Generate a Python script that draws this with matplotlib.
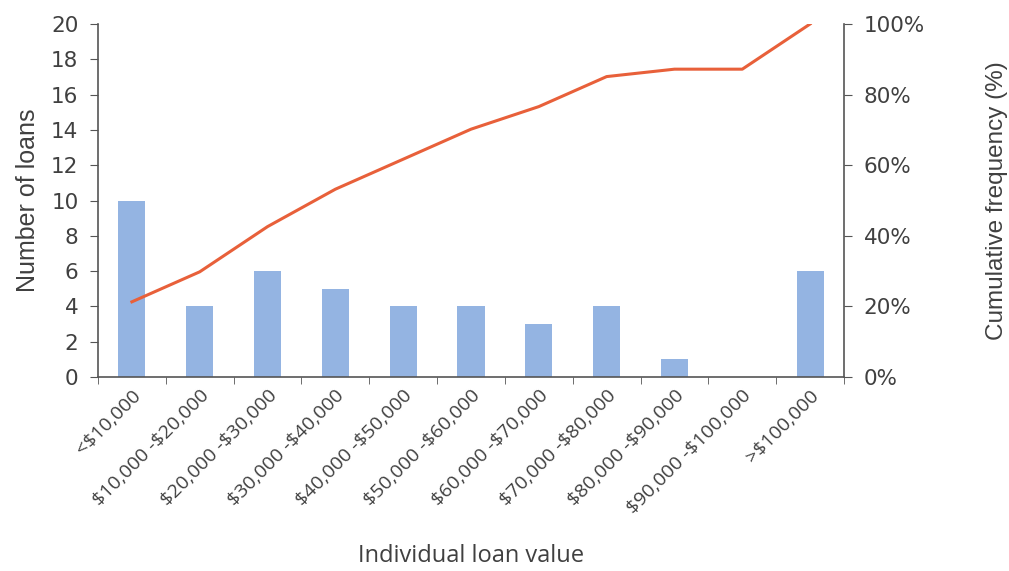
import numpy as np
import matplotlib
matplotlib.use("Agg")
import matplotlib.pyplot as plt
from matplotlib.ticker import FuncFormatter

# loan value bands, counts and running share of loans
bands = ["<$10,000", "$10,000 -$20,000", "$20,000 -$30,000", "$30,000 -$40,000",
         "$40,000 -$50,000", "$50,000 -$60,000", "$60,000 -$70,000",
         "$70,000 -$80,000", "$80,000 -$90,000", "$90,000 -$100,000", ">$100,000"]
counts = [10, 4, 6, 5, 4, 4, 3, 4, 1, 0, 6]
cum_pct = [21.3, 29.8, 42.6, 53.2, 61.7, 70.2, 76.6, 85.1, 87.2, 87.2, 100.0]

plt.rcParams['font.family'] = ['Liberation Sans', 'DejaVu Sans']
plt.rcParams['text.parse_math'] = False
txt = '#404040'
spine = '#555555'
tickfont = ['DejaVu Sans']

fig = plt.figure(figsize=(10.09, 5.71), dpi=100)
ax = fig.add_axes([0.0971, 0.3397, 0.7394, 0.6183])
x = np.arange(len(bands))
ax.bar(x, counts, width=0.4, color='#94b4e2', zorder=2)
ax.set_xlim(-0.5, len(bands) - 0.5)
ax.set_ylim(0, 20)
ax.set_yticks(range(0, 21, 2))
ax.set_xticks(x)
ax.set_xticklabels(bands, rotation=45, ha='right', rotation_mode='anchor',
                   fontsize=14, color=txt, family=['Open Sans', 'DejaVu Sans'])
ax.tick_params(axis='x', length=0, pad=7)
ax.set_xticks(np.arange(-0.5, len(bands)), minor=True)
ax.tick_params(axis='x', which='minor', length=5, color=spine, direction='out')
ax.tick_params(axis='y', length=6, color=spine, labelsize=15.5, labelcolor=txt, pad=8)
for lab in ax.get_yticklabels():
    lab.set_family(tickfont)
for s in ['top', 'right']:
    ax.spines[s].set_visible(False)
for s in ['left', 'bottom']:
    ax.spines[s].set_color(spine)
    ax.spines[s].set_linewidth(1.2)
ax.set_ylabel("Number of loans", fontsize=18, color=txt, labelpad=8)
ax.set_xlabel("Individual loan value", fontsize=17, color=txt, labelpad=19,
              family=['Open Sans', 'DejaVu Sans'])

ax2 = ax.twinx()
ax2.plot(x, cum_pct, color='#e8603a', lw=2.2, zorder=3)
ax2.set_ylim(0, 100)
ax2.set_yticks(range(0, 101, 20))
ax2.yaxis.set_major_formatter(FuncFormatter(lambda v, p: f"{int(v)}%"))
ax2.tick_params(axis='y', length=6, color=spine, labelsize=15.5, labelcolor=txt, pad=8)
for lab in ax2.get_yticklabels():
    lab.set_family(tickfont)
for s in ['top', 'left', 'bottom']:
    ax2.spines[s].set_visible(False)
ax2.spines['right'].set_color(spine)
ax2.spines['right'].set_linewidth(1.2)
ax2.set_ylabel("Cumulative frequency (%)", fontsize=17.5, color=txt, labelpad=44)

fig.savefig("out.png", dpi=100)
